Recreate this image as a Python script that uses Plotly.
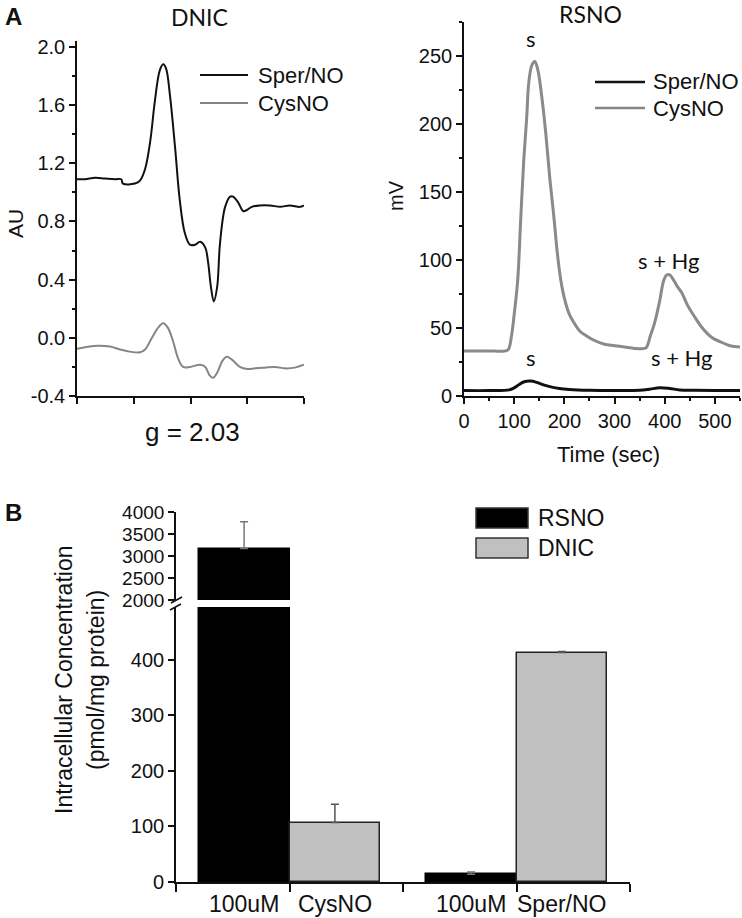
import plotly.graph_objects as go

W, H = 742, 918

# ---------------- data ----------------
# Panel A (left): DNIC EPR spectra (arbitrary field units 0..400)
dnic_sper_x = [0, 14, 32, 49, 67, 78, 81, 102, 111, 120, 129, 137, 146, 152, 157, 164, 173, 181, 190, 199,
               208, 217, 226, 231, 236, 241, 247, 252, 261, 270, 275, 284, 293, 300, 308, 322, 340, 358, 375, 393, 400]
dnic_sper_y = [1.09, 1.09, 1.10, 1.095, 1.09, 1.09, 1.06, 1.06, 1.08, 1.16, 1.35, 1.62, 1.84, 1.88, 1.85, 1.66, 1.30,
               0.95, 0.72, 0.64, 0.64, 0.66, 0.62, 0.52, 0.35, 0.25, 0.35, 0.65, 0.90, 0.97, 0.97, 0.93, 0.87, 0.88,
               0.90, 0.91, 0.91, 0.90, 0.91, 0.90, 0.91]
dnic_cys_x = [0, 23, 35, 58, 76, 93, 111, 120, 132, 143, 152, 160, 169, 178, 187, 199, 217, 226, 234, 240, 247,
              256, 264, 273, 287, 300, 314, 331, 349, 366, 384, 400]
dnic_cys_y = [-0.075, -0.06, -0.055, -0.06, -0.08, -0.095, -0.10, -0.08, 0.0, 0.07, 0.10, 0.07, -0.02, -0.14, -0.20,
              -0.20, -0.185, -0.20, -0.26, -0.275, -0.24, -0.16, -0.13, -0.15, -0.20, -0.215, -0.21, -0.205, -0.20,
              -0.21, -0.205, -0.185]
dnic_yticks = [-0.4, 0.0, 0.4, 0.8, 1.2, 1.6, 2.0]
dnic_yticktext = ["-0.4", "0.0", "0.4", "0.8", "1.2", "1.6", "2.0"]

# Panel A (right): RSNO chemiluminescence traces
rsno_cys_t = [0, 20, 40, 60, 80, 88, 95, 100, 107, 113, 119, 125, 129, 135, 141, 147, 155, 163, 171, 179, 186, 193,
              200, 210, 219, 230, 245, 259, 280, 300, 320, 340, 360, 364, 372, 380, 390, 398, 404, 410, 418, 426,
              434, 445, 460, 475, 494, 510, 530, 550]
rsno_cys_mv = [33, 33, 33, 33, 33, 34, 45, 60, 85, 130, 173, 205, 230, 243, 246, 240, 220, 193, 160, 132, 105, 85,
               72, 60, 54, 48, 44, 41, 38, 37, 36, 35, 35, 36, 45, 54, 70, 85, 89, 89, 85, 80, 76, 67, 58, 50, 43,
               40, 37, 36]
rsno_sper_t = [0, 50, 90, 100, 110, 120, 133, 145, 160, 175, 190, 210, 250, 300, 350, 370, 390, 410, 430, 460, 500, 550]
rsno_sper_mv = [4, 4, 4.5, 6, 8.5, 10.5, 11, 10, 8, 6.5, 5.5, 4.8, 4.2, 4, 4.2, 5, 6, 5.5, 4.5, 4.2, 4, 4]

# Panel B: intracellular concentration
group_labels = ["CysNO", "Sper/NO"]
dose_label = "100uM"
rsno_vals = [3170, 14]
rsno_err = [610, 4]
dnic_vals = [107, 413]
dnic_err = [33, 2]

# ---------------- helpers ----------------
def fx(px):
    return px / W

def fy(py):
    return 1 - py / H

ARIAL = "Liberation Sans, Arial, sans-serif"
CAL = "Lato, Carlito, sans-serif"
BLACK = "#111111"
GRAY_LINE = "#858585"

fig = go.Figure()

# Panel A left
fig.add_trace(go.Scatter(x=dnic_sper_x, y=dnic_sper_y, mode="lines", line=dict(color=BLACK, width=2, shape="spline"),
                         xaxis="x", yaxis="y", showlegend=False))
fig.add_trace(go.Scatter(x=dnic_cys_x, y=dnic_cys_y, mode="lines", line=dict(color=GRAY_LINE, width=2, shape="spline"),
                         xaxis="x", yaxis="y", showlegend=False))

# Panel A right
fig.add_trace(go.Scatter(x=rsno_cys_t, y=rsno_cys_mv, mode="lines", line=dict(color="#8a8a8a", width=3, shape="spline"),
                         xaxis="x2", yaxis="y2", showlegend=False))
fig.add_trace(go.Scatter(x=rsno_sper_t, y=rsno_sper_mv, mode="lines", line=dict(color=BLACK, width=3, shape="spline"),
                         xaxis="x2", yaxis="y2", showlegend=False))

# Panel B bars (lower + upper broken axis)
group_pos = [1, 3]
bw = 0.8
rsno_x = [g - bw / 2 for g in group_pos]
dnic_x = [g + bw / 2 for g in group_pos]
for xa, ya in (("x3", "y3"), ("x4", "y4")):
    fig.add_trace(go.Bar(x=rsno_x, y=rsno_vals, width=bw, marker=dict(color="#000000", line=dict(color="#000000", width=1.5)),
                         error_y=dict(type="data", array=rsno_err, symmetric=False, arrayminus=[0, 0],
                                      color="#777777", thickness=1.5, width=4),
                         xaxis=xa, yaxis=ya, showlegend=False))
    fig.add_trace(go.Bar(x=dnic_x, y=dnic_vals, width=bw, marker=dict(color="#c0c0c0", line=dict(color="#222222", width=1.5)),
                         error_y=dict(type="data", array=dnic_err, symmetric=False, arrayminus=[0, 0],
                                      color="#555555", thickness=1.5, width=4),
                         xaxis=xa, yaxis=ya, showlegend=False))

axis_common = dict(showline=True, linecolor=BLACK, linewidth=1.6, showgrid=False, zeroline=False, automargin=False,
                   ticks="outside", tickcolor=BLACK, tickwidth=1.5, tickfont=dict(family=ARIAL, size=20, color=BLACK))

fig.update_layout(
    template="none",
    width=W, height=H, margin=dict(l=0, r=0, t=0, b=0, pad=0), autosize=False,
    paper_bgcolor="white", plot_bgcolor="white", showlegend=False,
    bargap=0,
    xaxis=dict(domain=[fx(77), fx(304)], range=[0, 400], tickvals=[0, 100, 200, 300, 400], showticklabels=False,
               ticklen=6, anchor="y", **axis_common),
    yaxis=dict(domain=[fy(396), fy(41)], range=[-0.4, 2.04], tickvals=dnic_yticks, ticktext=dnic_yticktext, ticklen=6,
               minor=dict(dtick=0.2, tick0=0, ticks="outside", ticklen=3, tickcolor=BLACK), anchor="x", **axis_common),
    xaxis2=dict(domain=[fx(464), fx(740)], range=[0, 550], dtick=100, tick0=0, ticklen=6,
                minor=dict(dtick=50, tick0=0, ticks="outside", ticklen=3, tickcolor=BLACK), anchor="y2", **axis_common),
    yaxis2=dict(domain=[fy(396), fy(22)], range=[0, 275], dtick=50, tick0=0, ticklen=6,
                minor=dict(dtick=25, tick0=0, ticks="outside", ticklen=3, tickcolor=BLACK), anchor="x2", **axis_common),
    xaxis3=dict(domain=[fx(176), fx(630)], range=[0, 4], tickvals=[0, 1, 2, 3, 4], showticklabels=False, ticklen=8,
                anchor="y3", **axis_common),
    yaxis3=dict(domain=[fy(882), fy(607)], range=[0, 495], tickvals=[0, 100, 200, 300, 400], ticklen=6,
                anchor="x3", **{**axis_common, "tickfont": dict(family=ARIAL, size=20, color=BLACK)}),
    xaxis4=dict(domain=[fx(176), fx(630)], range=[0, 4], visible=False, anchor="y4", matches="x3", automargin=False),
    yaxis4=dict(domain=[fy(600), fy(512)], range=[2000, 4000], tickvals=[2000, 2500, 3000, 3500, 4000], ticklen=6,
                anchor="x4", **{**axis_common, "tickfont": dict(family=ARIAL, size=19, color=BLACK)}),
)

ann = []
def text(x, y, s, size, family=ARIAL, xref="paper", yref="paper", xanchor="center", yanchor="middle", angle=0, bold=False):
    ann.append(dict(x=x, y=y, xref=xref, yref=yref, text=("<b>%s</b>" % s) if bold else s, showarrow=False,
                    xanchor=xanchor, yanchor=yanchor, textangle=angle,
                    font=dict(family=family, size=size, color=BLACK)))

# Panel labels and titles
text(fx(3), fy(16), "A", 24, bold=True, xanchor="left")
text(fx(3), fy(512), "B", 24, bold=True, xanchor="left")
text(fx(200), fy(17), "DNIC", 23, family=CAL)
text(fx(590), fy(14), "RSNO", 23, family=CAL)
text(fx(16), fy(224), "AU", 21, angle=-90)
text(fx(396), fy(196), "mV", 20, angle=-90)
text(fx(608), fy(455), "Time (sec)", 22)
text(fx(192), fy(432), "g = 2.03", 26)

# RSNO peak labels
text(133, 263, "s", 22, family=CAL, xref="x2", yref="y2")
text(408, 100, "s + Hg", 22, family=CAL, xref="x2", yref="y2")
text(133, 28, "s", 22, family=CAL, xref="x2", yref="y2")
text(434, 28, "s + Hg", 22, family=CAL, xref="x2", yref="y2")

# Panel B y title
text(fx(64), fy(680), "Intracellular Concentration", 23, angle=-90)
text(fx(96), fy(680), "(pmol/mg protein)", 23, angle=-90)

# Panel B category labels (at bar centres)
for g, lab in zip(group_pos, group_labels):
    text(g - bw / 2, fy(904), dose_label, 23, xref="x3", yref="paper", yanchor="middle")
    text(g + bw / 2, fy(904), lab, 23, xref="x3", yref="paper", yanchor="middle")

shapes = []
# Legend panel A left
legA = [("Sper/NO", BLACK, 75), ("CysNO", GRAY_LINE, 103)]
for name, col, py in legA:
    shapes.append(dict(type="line", xref="paper", yref="paper", x0=fx(200), x1=fx(248), y0=fy(py), y1=fy(py),
                       line=dict(color=col, width=2)))
    text(fx(256), fy(py), name, 22, xanchor="left")
# Legend panel A right
legR = [("Sper/NO", BLACK, 82), ("CysNO", GRAY_LINE, 108)]
for name, col, py in legR:
    shapes.append(dict(type="line", xref="paper", yref="paper", x0=fx(595), x1=fx(645), y0=fy(py), y1=fy(py),
                       line=dict(color=col, width=2.5)))
    text(fx(651), fy(py), name, 22, xanchor="left")
# Legend panel B
legB = [("RSNO", "#000000", 518), ("DNIC", "#c0c0c0", 548)]
for name, col, py in legB:
    shapes.append(dict(type="rect", xref="paper", yref="paper", x0=fx(476), x1=fx(528), y0=fy(py + 10), y1=fy(py - 10),
                       fillcolor=col, line=dict(color="#333333", width=1.5)))
    text(fx(536), fy(py), name, 23, xanchor="left")

# Axis break marks
for (x0, y0, x1, y1) in [(171, 603, 182, 597), (170, 610, 181, 604)]:
    shapes.append(dict(type="line", xref="paper", yref="paper", x0=fx(x0), y0=fy(y0), x1=fx(x1), y1=fy(y1),
                       line=dict(color=BLACK, width=1.5)))

fig.update_layout(annotations=ann, shapes=shapes)
fig.write_html("out.html", config={"displayModeBar": False},
               post_script="document.body.style.margin='0px';document.body.style.overflow='hidden';")
